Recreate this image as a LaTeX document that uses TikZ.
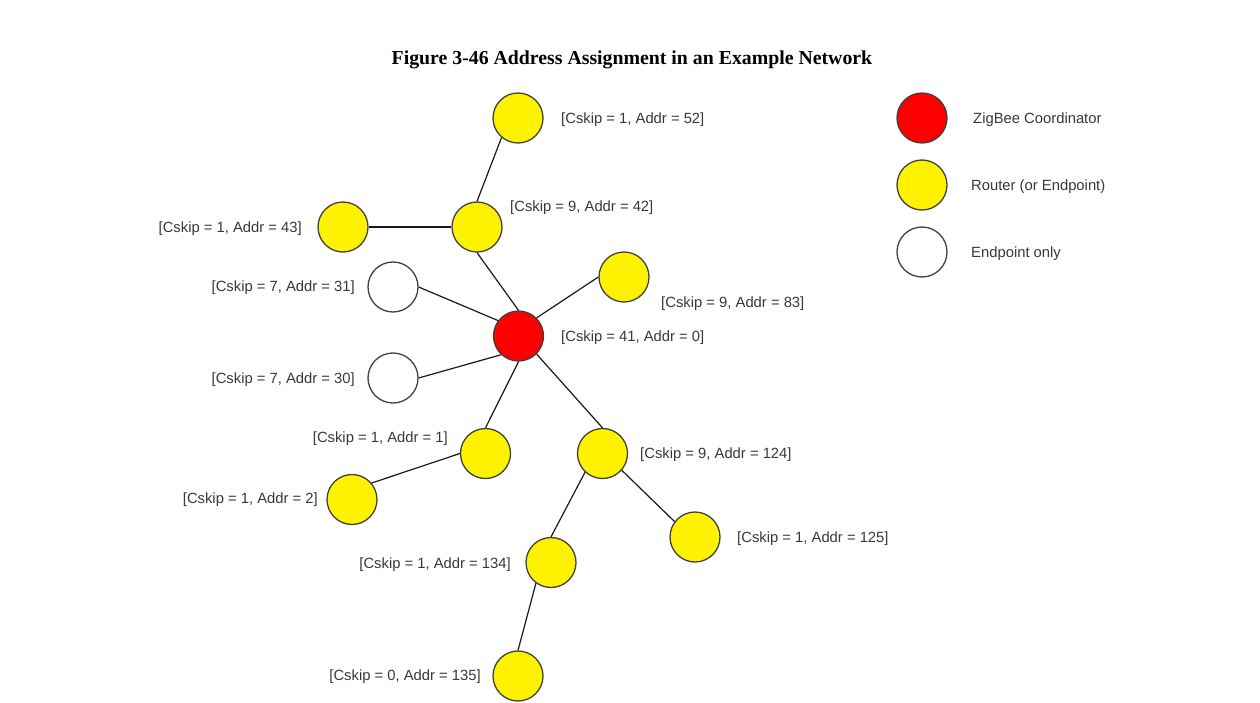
\documentclass[tikz,border=0pt]{standalone}
\usepackage{fontspec}
\setmainfont{Liberation Sans}
\newfontfamily\titlefont{Liberation Serif}
\begin{document}
\begin{tikzpicture}[x=1pt,y=1pt,
  dev/.style={circle,draw=black!75,line width=1.3pt,minimum size=50pt,inner sep=0pt},
  coord/.style={dev,fill=red},
  router/.style={dev,fill=yellow},
  endpt/.style={dev,fill=white},
  lbl/.style={text=black!78,font=\fontsize{14.8}{17}\selectfont,inner sep=0pt},
  link/.style={draw=black!90,line width=1.2pt}]
\useasboundingbox (0,0) rectangle (1260,-703);
\node[font=\titlefont\bfseries\fontsize{19.8}{23}\selectfont,inner sep=0pt] (title) at (632,-60) {Figure 3-46 Address Assignment in an Example Network};
% nodes
\node[router] (a52) at (518,-118) {};
\node[router] (a42) at (477,-227) {};
\node[router] (a43) at (343,-227) {};
\node[endpt]  (e31) at (393,-287) {};
\node[router] (a83) at (624,-277) {};
\node[coord]  (c0)  at (518.5,-336) {};
\node[endpt]  (e30) at (393,-378) {};
\node[router] (a1)  at (485.5,-453.5) {};
\node[router] (a124) at (602.5,-453.5) {};
\node[router] (a2)  at (352,-499.5) {};
\node[router] (a125) at (695,-537) {};
\node[router] (a134) at (551,-562.5) {};
\node[router] (a135) at (518,-676) {};
% links
\path[link] (a52.230) -- (a42.north);
\path[link] (a43.east) -- (a42.west);
\path[link] (a42.south) -- (c0.north);
\path[link] (e31.east) -- (c0.143);
\path[link] (a83.west) -- (c0.45);
\path[link] (e30.east) -- (c0.227);
\path[link] (c0.south) -- (a1.north);
\path[link] (c0.-45) -- (a124.north);
\path[link] (a1.west) -- (a2.40);
\path[link] (a124.227) -- (a134.north);
\path[link] (a124.-41) -- (a125.143);
\path[link] (a134.234) -- (a135.north);
% labels
\node[lbl,anchor=west] (l52) at (561,-120) {[Cskip = 1, Addr = 52]};
\node[lbl,anchor=west] (l42) at (510,-208) {[Cskip = 9, Addr = 42]};
\node[lbl,anchor=east] (l43) at (302,-229) {[Cskip = 1, Addr = 43]};
\node[lbl,anchor=east] (l31) at (355,-288) {[Cskip = 7, Addr = 31]};
\node[lbl,anchor=west] (l83) at (661,-304) {[Cskip = 9, Addr = 83]};
\node[lbl,anchor=west] (l0)  at (561,-338) {[Cskip = 41, Addr = 0]};
\node[lbl,anchor=east] (l30) at (355,-380) {[Cskip = 7, Addr = 30]};
\node[lbl,anchor=east] (l1)  at (448,-439) {[Cskip = 1, Addr = 1]};
\node[lbl,anchor=west] (l124) at (640,-455) {[Cskip = 9, Addr = 124]};
\node[lbl,anchor=east] (l2)  at (318,-500) {[Cskip = 1, Addr = 2]};
\node[lbl,anchor=west] (l125) at (737,-539) {[Cskip = 1, Addr = 125]};
\node[lbl,anchor=east] (l134) at (511,-565) {[Cskip = 1, Addr = 134]};
\node[lbl,anchor=east] (l135) at (481,-677) {[Cskip = 0, Addr = 135]};
% legend
\node[coord]  (kc) at (922,-118) {};
\node[router] (kr) at (922,-185) {};
\node[endpt]  (ke) at (922,-252) {};
\node[lbl,anchor=west] (lkc) at (973,-120) {ZigBee Coordinator};
\node[lbl,anchor=west] (lkr) at (971,-187) {Router (or Endpoint)};
\node[lbl,anchor=west] (lke) at (971,-254) {Endpoint only};
\end{tikzpicture}
\end{document}
